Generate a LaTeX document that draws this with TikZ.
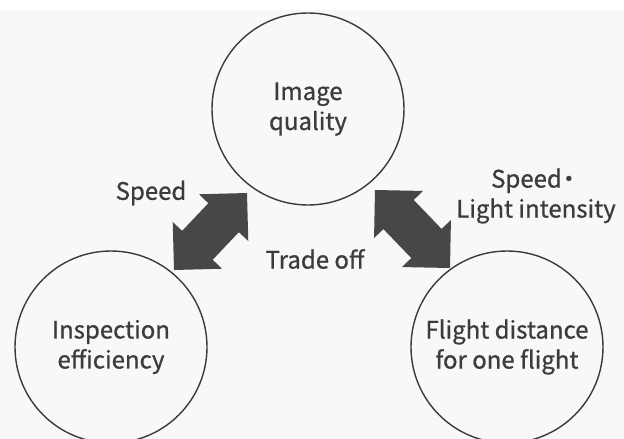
\documentclass[tikz,border=0pt]{standalone}
\usepackage{fontspec}
\setmainfont{Noto Sans CJK JP}[FakeBold=0.8]
\usetikzlibrary{calc}
\definecolor{bgc}{HTML}{F8F8F8}
\definecolor{linec}{HTML}{3A3A3A}
\definecolor{textc}{HTML}{3C3C3C}
\definecolor{arrowc}{HTML}{474747}
\newcommand{\blockarrow}[2]{%
  \fill[arrowc] (#1) -- ($(#1)!48pt!45:(#2)$) -- ($(#1)!40pt!31.7:(#2)$)
    -- ($(#2)!40pt!-31.7:(#1)$) -- ($(#2)!48pt!-45:(#1)$) -- (#2)
    -- ($(#2)!48pt!45:(#1)$) -- ($(#2)!40pt!31.7:(#1)$)
    -- ($(#1)!40pt!-31.7:(#2)$) -- ($(#1)!48pt!-45:(#2)$) -- cycle;}
\begin{document}
\begin{tikzpicture}[x=1pt,y=-1pt,
  bubble/.style={circle,draw=linec,line width=1.4pt,minimum size=192pt,
    inner sep=0pt,text=textc,align=center,font=\fontsize{24}{30}\selectfont},
  lbl/.style={text=textc,align=center,inner sep=0pt,font=\fontsize{24}{30}\selectfont}]
\fill[bgc] (0,0) rectangle (624,439);
\fill[white] (0,0) rectangle (624,10);
\useasboundingbox (0,0) rectangle (624,439);
\clip (0,0) rectangle (624,439);
\node[bubble] (IQ) at (308,109) {Image\\quality};
\node[bubble] (IE) at (111,347) {Inspection\\efficiency};
\node[bubble] (FD) at (507,347) {Flight distance\\for one flight};
\coordinate (a1) at (174,270);
\coordinate (a2) at (247,193);
\coordinate (b1) at (375,190);
\coordinate (b2) at (450,268);
\blockarrow{a1}{a2}
\blockarrow{b1}{b2}
\node[lbl] (sp) at (151,193) {Speed};
\node[lbl] (spl) at (536,196) {Speed\kern-5pt{・}\\Light intensity};
\node[lbl] (to) at (315,259) {Trade off};
\end{tikzpicture}
\end{document}
